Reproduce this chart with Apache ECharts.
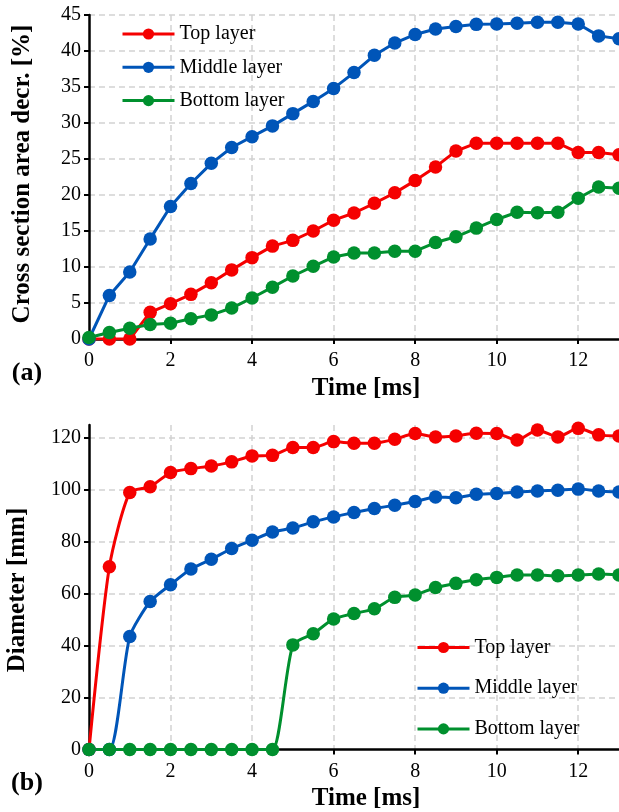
<!DOCTYPE html>
<html lang="en">
<head>
  <meta charset="UTF-8">
  <title>Cross section area decrease and diameter vs time</title>
  <script src="https://cdn.jsdelivr.net/npm/echarts@6/dist/echarts.min.js"></script>
  <style>
    html, body { margin: 0; padding: 0; background: #fff; }
    #chart { width: 619px; height: 812px; }
  </style>
</head>
<body>
  <div id="chart"></div>
  <script>
    // time axis (ms), one point every 0.5 ms
    const time = [0, 0.5, 1, 1.5, 2, 2.5, 3, 3.5, 4, 4.5, 5, 5.5, 6, 6.5, 7, 7.5, 8, 8.5, 9, 9.5, 10, 10.5, 11, 11.5, 12, 12.5, 13];
    const layerNames = ['Top layer', 'Middle layer', 'Bottom layer'];
    const layerColors = ['#f50000', '#0055b8', '#00902e'];

    // (a) cross section area decrease [%]
    const areaTop = [0, 0, 0, 3.7, 4.9, 6.2, 7.8, 9.6, 11.3, 12.9, 13.7, 15.0, 16.5, 17.5, 18.85, 20.3, 22.0, 23.9, 26.1, 27.2, 27.2, 27.2, 27.2, 27.2, 25.9, 25.9, 25.6];
    const areaMiddle = [0, 6.05, 9.3, 13.9, 18.4, 21.6, 24.4, 26.6, 28.1, 29.6, 31.3, 33.0, 34.8, 37.0, 39.4, 41.1, 42.3, 43.05, 43.4, 43.7, 43.75, 43.85, 44.0, 44.0, 43.75, 42.1, 41.7];
    const areaBottom = [0.2, 0.9, 1.5, 2.0, 2.2, 2.8, 3.35, 4.3, 5.7, 7.2, 8.75, 10.1, 11.4, 11.95, 11.95, 12.2, 12.2, 13.4, 14.2, 15.4, 16.6, 17.6, 17.55, 17.6, 19.55, 21.1, 20.95];

    // (b) diameter [mm]
    const diaTop = [0, 70.4, 99.0, 101.2, 106.7, 108.2, 109.2, 110.8, 113.1, 113.3, 116.3, 116.3, 118.6, 118.0, 118.0, 119.5, 121.7, 120.4, 120.8, 121.8, 121.7, 119.2, 123.1, 120.4, 123.7, 121.2, 120.8];
    const diaMiddle = [0, 0, 43.5, 57.0, 63.5, 69.5, 73.3, 77.4, 80.6, 83.8, 85.3, 87.7, 89.6, 91.3, 92.8, 94.1, 95.5, 97.3, 97.0, 98.3, 98.6, 99.2, 99.6, 99.9, 100.3, 99.6, 99.2];
    const diaBottom = [0, 0, 0, 0, 0, 0, 0, 0, 0, 0, 40.3, 44.6, 50.3, 52.4, 54.2, 58.6, 59.5, 62.4, 64.0, 65.4, 66.3, 67.2, 67.2, 66.9, 67.2, 67.6, 67.2];

    const serif = 'Liberation Serif';

    function pairs(vals) {
      return time.map((t, i) => [t, vals[i]]);
    }

    function makeSeries(idx, vals, axisIdx, smooth) {
      return {
        name: layerNames[idx],
        type: 'line',
        xAxisIndex: axisIdx,
        yAxisIndex: axisIdx,
        data: pairs(vals),
        smooth: smooth,
        symbol: 'circle',
        symbolSize: 13.5,
        lineStyle: { width: 3, color: layerColors[idx] },
        itemStyle: { color: layerColors[idx] },
        animation: false
      };
    }

    function xAxisFor(gridIdx) {
      return {
        type: 'value', gridIndex: gridIdx, min: 0, max: 13, interval: 2,
        axisLine: { lineStyle: { color: '#000', width: 2.5 } },
        axisTick: { show: true, length: 5, lineStyle: { color: '#000', width: 2 } },
        axisLabel: { color: '#000', fontFamily: serif, fontSize: 20, margin: 12, showMaxLabel: false },
        splitLine: { show: true, showMinLine: false, showMaxLine: false, lineStyle: { color: '#d2d2d2', width: 1.5, type: [6, 4] } }
      };
    }

    function yAxisFor(gridIdx, max, interval) {
      return {
        type: 'value', gridIndex: gridIdx, min: 0, max: max, interval: interval,
        axisLine: { show: true, lineStyle: { color: '#000', width: 2.5 } },
        axisTick: { show: true, length: 5, lineStyle: { color: '#000', width: 2 } },
        axisLabel: { color: '#000', fontFamily: serif, fontSize: 20, margin: 8, showMaxLabel: max % interval === 0 },
        splitLine: { show: true, showMinLine: false, showMaxLine: max % interval === 0, lineStyle: { color: '#d2d2d2', width: 1.5, type: [6, 4] } }
      };
    }

    function legendAt(left, top, gap) {
      return {
        orient: 'vertical', left: left, top: top, padding: 0,
        itemWidth: 52, itemHeight: 14, itemGap: gap,
        data: layerNames,
        lineStyle: { width: 3 },
        textStyle: { color: '#000', fontFamily: serif, fontSize: 20 }
      };
    }

    function label(text, x, y, size, rotate) {
      return {
        type: 'text', x: x, y: y, rotation: rotate ? Math.PI / 2 : 0,
        style: { text: text, fill: '#000', font: 'bold ' + size + 'px "Liberation Serif"', align: 'center', verticalAlign: 'middle' }
      };
    }

    const chart = echarts.init(document.getElementById('chart'));
    chart.setOption({
      animation: false,
      grid: [
        { left: 89, top: 15, right: 0, height: 324 },
        { left: 89, top: 425, right: 0, height: 324.5 }
      ],
      xAxis: [xAxisFor(0), xAxisFor(1)],
      yAxis: [yAxisFor(0, 45, 5), yAxisFor(1, 125, 20)],
      legend: [legendAt(121, 24, 13.3), legendAt(416, 637.5, 20.7)],
      series: [
        makeSeries(0, areaTop, 0, false),
        makeSeries(1, areaMiddle, 0, false),
        makeSeries(2, areaBottom, 0, false),
        makeSeries(0, diaTop, 1, 0.22),
        makeSeries(1, diaMiddle, 1, 0.22),
        makeSeries(2, diaBottom, 1, 0.22)
      ],
      graphic: [
        label('Cross section area decr. [%]', 23, 174, 25, true),
        label('Diameter [mm]', 18, 590, 25, true),
        label('Time [ms]', 366, 389, 25, false),
        label('Time [ms]', 366, 799, 25, false),
        label('(a)', 27, 373, 26, false),
        label('(b)', 27, 783, 26, false)
      ]
    });
  </script>
</body>
</html>
